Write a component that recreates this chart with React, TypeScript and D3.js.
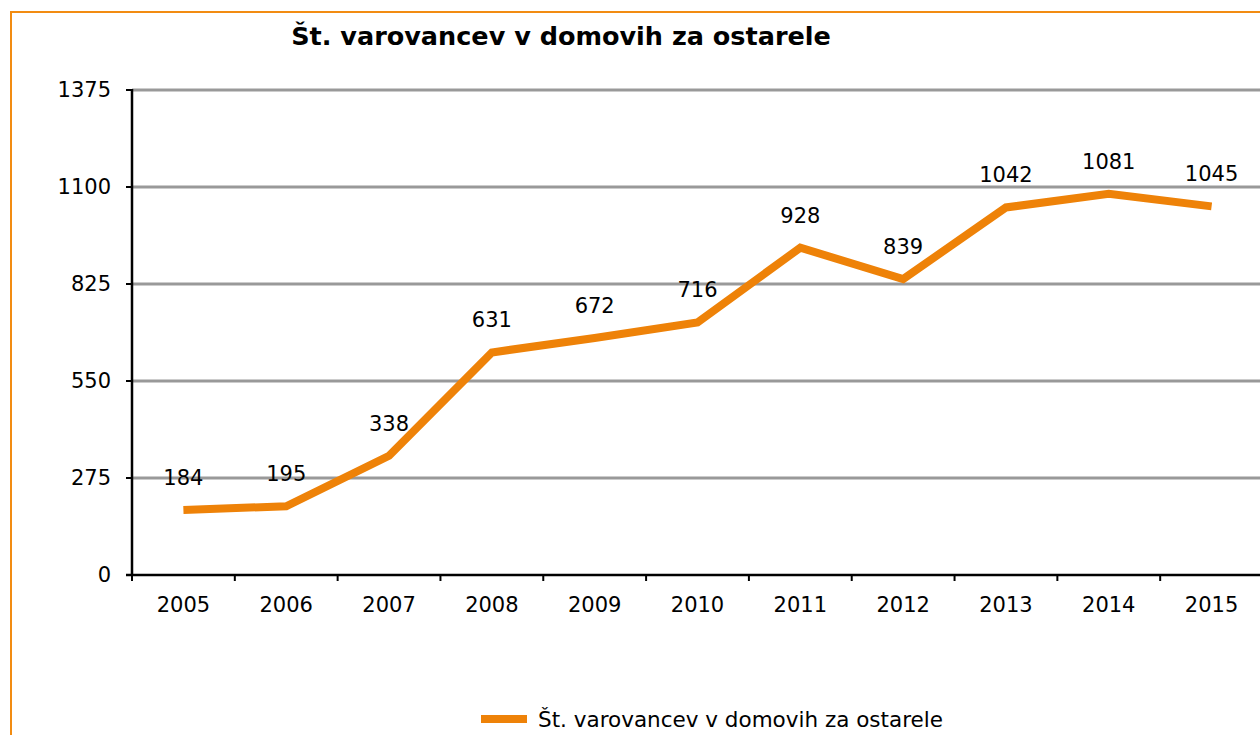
import React from "react";
import * as d3 from "d3";

const years = ["2005","2006","2007","2008","2009","2010","2011","2012","2013","2014","2015"];
const values = [184,195,338,631,672,716,928,839,1042,1081,1045];
const yTicks = [0,275,550,825,1100,1375];
const title = "Št. varovancev v domovih za ostarele";
const seriesName = "Št. varovancev v domovih za ostarele";

const W = 1260, H = 735;
const left = 132, right = 1263, top = 90, bottom = 575;
const ORANGE = "#EE8208";
const FONT = "'DejaVu Sans', Verdana, sans-serif";

export default function App() {
  const x = d3.scaleBand<string>().domain(years).range([left, right]).padding(0);
  const y = d3.scaleLinear().domain([0, 1375]).range([bottom, top]);
  const line = d3.line<number>()
    .x((_, i) => (x(years[i]) as number) + x.bandwidth() / 2)
    .y((d) => y(d));
  const tickXs = years.map((yr) => x(yr) as number).concat([right]);

  return (
    <svg width={W} height={H} style={{ position: "fixed", left: 0, top: 0 }} fontFamily={FONT}>
      <rect x={0} y={0} width={W} height={H} fill="#fff" />
      <rect x={11} y={12} width={W + 20} height={H + 20} fill="none" stroke="#F28C12" strokeWidth={2} />
      <text x={561} y={45} textAnchor="middle" fontWeight="bold" fontSize={25.5} fill="#000">{title}</text>
      {yTicks.map((t) => (
        <g key={t}>
          {t > 0 && <line x1={left} x2={W} y1={y(t)} y2={y(t)} stroke="#999" strokeWidth={3} />}
          <line x1={left - 6} x2={left} y1={y(t)} y2={y(t)} stroke="#000" strokeWidth={2} />
          <text x={111} y={y(t)} dy="0.35em" textAnchor="end" fontSize={21}>{t}</text>
        </g>
      ))}
      <line x1={left} x2={left} y1={top - 1} y2={bottom + 1} stroke="#000" strokeWidth={2.5} />
      <line x1={left - 6} x2={W} y1={bottom} y2={bottom} stroke="#000" strokeWidth={2.5} />
      {tickXs.map((tx, i) => (
        <line key={i} x1={tx} x2={tx} y1={bottom} y2={bottom + 6} stroke="#000" strokeWidth={2} />
      ))}
      {years.map((yr) => (
        <text key={yr} x={(x(yr) as number) + x.bandwidth() / 2} y={611.5} textAnchor="middle" fontSize={21}>{yr}</text>
      ))}
      <path d={line(values) || ""} fill="none" stroke={ORANGE} strokeWidth={8} strokeLinejoin="miter" />
      {values.map((v, i) => (
        <text key={i} x={(x(years[i]) as number) + x.bandwidth() / 2} y={y(v) - 25} textAnchor="middle" fontSize={21}>{v}</text>
      ))}
      <line x1={481} x2={527} y1={719} y2={719} stroke={ORANGE} strokeWidth={8} />
      <text x={538} y={726.5} fontSize={21.5}>{seriesName}</text>
    </svg>
  );
}
